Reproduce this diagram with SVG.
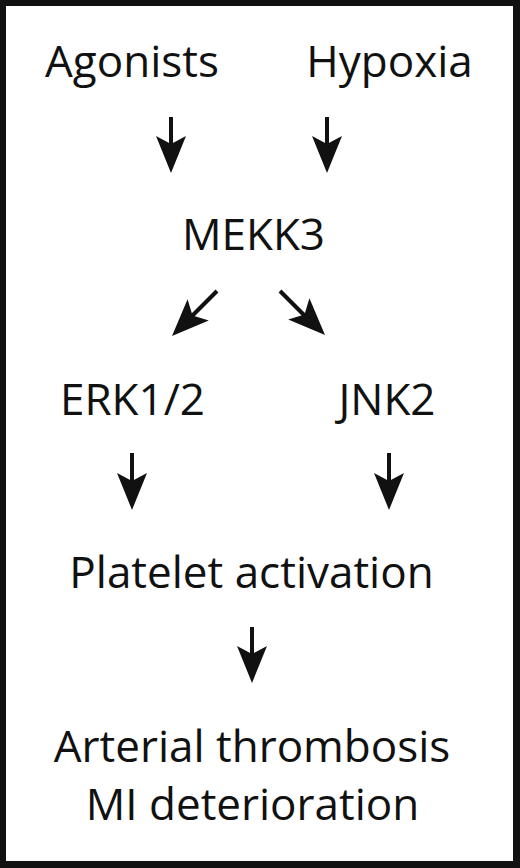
<svg xmlns="http://www.w3.org/2000/svg" width="520" height="868" viewBox="0 0 520 868">
<defs>
<style>
.t{font-family:"Open Sans","Noto Sans","Liberation Sans",sans-serif;font-size:44px;fill:#111;text-anchor:middle}
.s{stroke:#111;stroke-width:4;fill:none;stroke-linecap:butt}
.h{fill:#111}
</style>
<polygon id="head" points="0,0 -15,-37 0,-29 15,-37"/>
</defs>
<rect x="0" y="0" width="520" height="868" fill="#111"/>
<rect x="6" y="6" width="507" height="855" fill="#fff"/>
<g id="agonists"><text class="t" x="132" y="77">Agonists</text></g>
<g id="hypoxia"><text class="t" x="389.5" y="77">Hypoxia</text></g>
<g id="mekk3"><text class="t" x="253.5" y="250">MEKK3</text></g>
<g id="erk"><text class="t" x="132.5" y="415">ERK1/2</text></g>
<g id="jnk2"><text class="t" x="387" y="415">JNK2</text></g>
<g id="platelet"><text class="t" x="251.5" y="588">Platelet activation</text></g>
<g id="outcome"><text class="t" x="252" y="762">Arterial thrombosis</text><text class="t" x="252.5" y="820">MI deterioration</text></g>
<g id="connectors">
<line class="s" x1="171" y1="117" x2="171" y2="150"/><use href="#head" class="h" transform="translate(171,173)"/>
<line class="s" x1="327" y1="117" x2="327" y2="150"/><use href="#head" class="h" transform="translate(327,173)"/>
<line class="s" x1="217" y1="291" x2="192" y2="316"/><use href="#head" class="h" transform="translate(172,336) rotate(45)"/>
<line class="s" x1="280" y1="291" x2="305" y2="316"/><use href="#head" class="h" transform="translate(325,335) rotate(-45)"/>
<line class="s" x1="132" y1="453" x2="132" y2="487"/><use href="#head" class="h" transform="translate(132,510)"/>
<line class="s" x1="389" y1="453" x2="389" y2="487"/><use href="#head" class="h" transform="translate(389,510)"/>
<line class="s" x1="252" y1="627" x2="252" y2="660"/><use href="#head" class="h" transform="translate(252,683)"/>
</g>
</svg>
